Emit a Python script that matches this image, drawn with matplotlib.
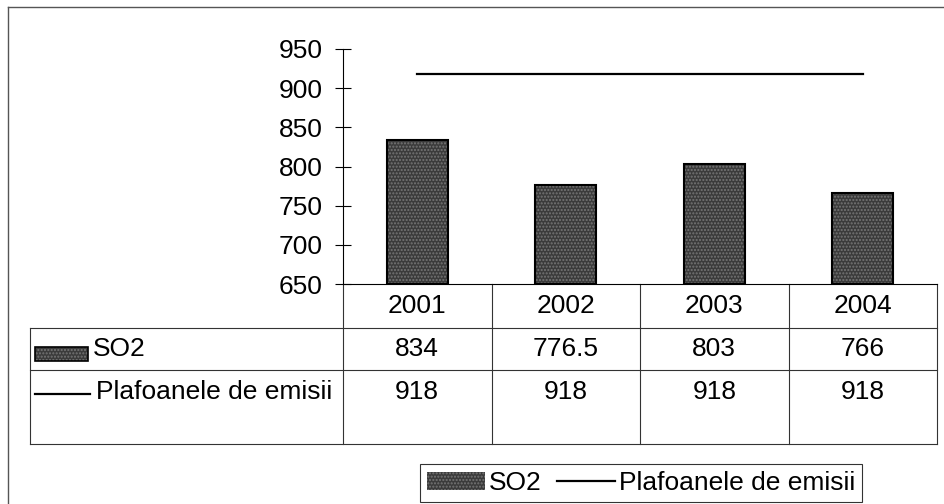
import matplotlib
matplotlib.use("Agg")
import matplotlib.pyplot as plt
from matplotlib.patches import Rectangle
from matplotlib.lines import Line2D

plt.rcParams['font.family'] = ['Liberation Sans', 'DejaVu Sans']

years = ["2001", "2002", "2003", "2004"]
so2 = [834, 776.5, 803, 766]
plafon = [918, 918, 918, 918]
so2_text = ["834", "776.5", "803", "766"]
plafon_text = ["918", "918", "918", "918"]
series_names = ["SO2", "Plafoanele de emisii"]
yticks = [650, 700, 750, 800, 850, 900, 950]

W, H = 945, 504
fs = 19
bar_face = '#3b3b3b'
dot_col = '#767676'

fig = plt.figure(figsize=(W / 100, H / 100), dpi=100)
fig.patch.set_facecolor('white')

# overlay in pixel coordinates (y down) for frame and table grid
ov = fig.add_axes([0, 0, 1, 1])
ov.set_xlim(0, W)
ov.set_ylim(H, 0)
ov.axis('off')

ax = fig.add_axes([343 / W, 1 - 284 / H, (937 - 343) / W, (284 - 49) / H])
ax.set_facecolor('none')
x = list(range(len(years)))
ax.bar(x, [v - 650 for v in so2], bottom=650, width=0.41, color=bar_face,
       edgecolor=dot_col, hatch='.....', linewidth=0, zorder=2)
ax.bar(x, [v - 650 for v in so2], bottom=650, width=0.41, fill=False,
       edgecolor='black', linewidth=1.5, zorder=3)
ax.plot(x, plafon, color='black', linewidth=1.6, zorder=4)
ax.set_xlim(-0.5, len(years) - 0.5)
ax.set_ylim(650, 950)
ax.set_yticks(yticks)
ax.set_yticklabels([str(t) for t in yticks], fontsize=fs)
ax.tick_params(axis='y', direction='inout', length=11, width=0.8, pad=9)
ax.set_xticks([])
for s in ['top', 'right']:
    ax.spines[s].set_visible(False)
ax.spines['left'].set_linewidth(0.8)
ax.spines['bottom'].set_linewidth(0.8)

# frame (runs past the right and bottom edges of the scan)
lc = '#333333'
ov.plot([8, 8], [7, H], color='#555555', lw=1.0)
ov.plot([8, W], [7, 7], color='#555555', lw=1.0)

# data table below the axis
def px(i):
    d = ax.transData.transform((i, 650))
    return ov.transData.inverted().transform(d)[0]

left, right = 30, px(len(years) - 0.5)
row_top, row1, row2, row3 = 284, 328, 370, 444
for yy in [row1, row2, row3]:
    ov.plot([left, right], [yy, yy], color=lc, lw=0.8)
ov.plot([left, left], [row1, row3], color=lc, lw=0.8)
for i in range(len(years) + 1):
    xb = px(i - 0.5)
    ov.plot([xb, xb], [row_top, row3], color=lc, lw=0.8)

for i, yr in enumerate(years):
    cx = px(i)
    ov.text(cx, (row_top + row1) / 2, yr, fontsize=fs, ha='center', va='center')
    ov.text(cx, (row1 + row2) / 2, so2_text[i], fontsize=fs, ha='center', va='center')
    ov.text(cx, 392, plafon_text[i], fontsize=fs, ha='center', va='center')

# row keys
ov.add_patch(Rectangle((35, 347), 53, 14, facecolor=bar_face, edgecolor=dot_col,
                       hatch='.....', linewidth=0))
ov.add_patch(Rectangle((35, 347), 53, 14, fill=False, edgecolor='black', linewidth=1.2))
ov.text(93, (row1 + row2) / 2, series_names[0], fontsize=fs, ha='left', va='center')
ov.plot([35, 90], [394, 394], color='black', lw=1.6)
ov.text(96, 392, series_names[1], fontsize=fs, ha='left', va='center')

# legend
h_bar = Rectangle((0, 0), 1, 1, facecolor=bar_face, edgecolor=dot_col,
                  hatch='.....', linewidth=0)
h_line = Line2D([], [], color='black', linewidth=1.6)
leg = fig.legend([h_bar, h_line], series_names, ncol=2, loc='center',
                 bbox_to_anchor=((419 + 863) / 2 / W, 1 - 483 / H),
                 fontsize=fs, frameon=True, fancybox=False, handlelength=2.2,
                 handletextpad=0.15, columnspacing=0.6, borderpad=0.25,
                 borderaxespad=0)
leg.get_frame().set_edgecolor('black')
leg.get_frame().set_linewidth(0.8)

fig.savefig('out.png', dpi=100)
